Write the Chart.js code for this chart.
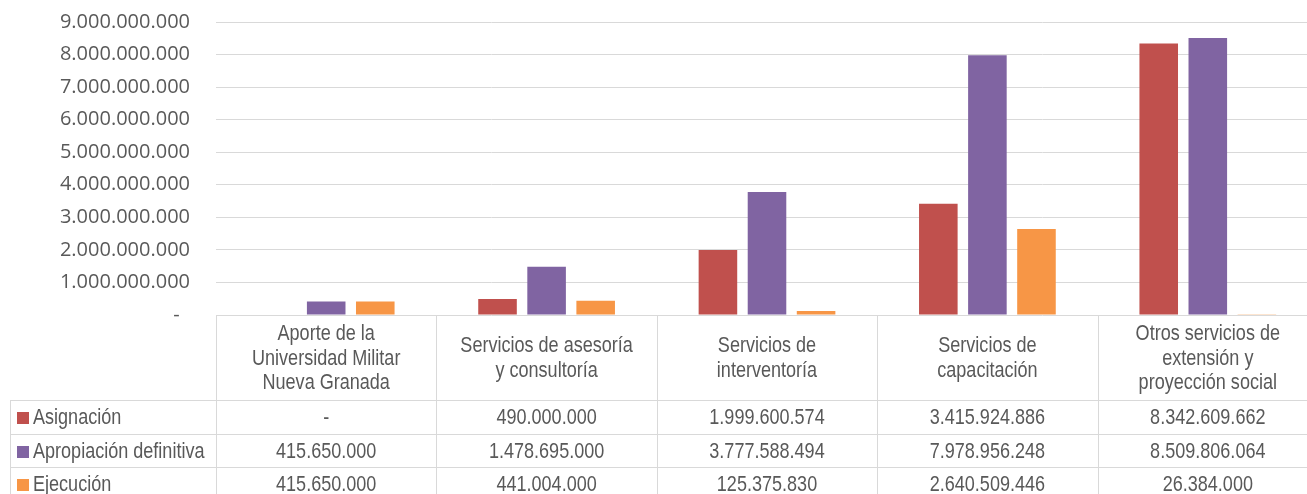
<!DOCTYPE html>
<html>
<head>
<meta charset="utf-8">
<script src="https://cdn.jsdelivr.net/npm/chart.js@4.4.1/dist/chart.umd.min.js"></script>
<style>
  html, body { margin: 0; padding: 0; background: #fff; overflow: hidden; }
  canvas { display: block; }
</style>
</head>
<body>
<canvas id="presupuesto" width="1318" height="494"></canvas>
<script>
const categorias = [
	["Aporte de la", "Universidad Militar", "Nueva Granada"],
	["Servicios de asesoría", "y consultoría"],
	["Servicios de", "interventoría"],
	["Servicios de", "capacitación"],
	["Otros servicios de", "extensión y", "proyección social"],
];
const asignacion = [0, 490000000, 1999600574, 3415924886, 8342609662];
const apropiacion = [415650000, 1478695000, 3777588494, 7978956248, 8509806064];
const ejecucion = [415650000, 441004000, 125375830, 2640509446, 26384000];
const ejeMax = 9000000000;
const ejePaso = 1000000000;

const GRIS = "#595959";
const LINEA = "#d9d9d9";
const FUENTE_TABLA = "22px 'Liberation Sans', Arial, sans-serif";
const ESTRECHO = 0.82; // compresion horizontal tipo "Narrow"

// formato con punto de miles, el cero se muestra como guion
function formato(v) {
	if (v === 0) return "-";
	return String(Math.round(v)).replace(/\B(?=(\d{3})+(?!\d))/g, ".");
}

// texto estrecho: se escala en x alrededor del punto de anclaje
function textoEstrecho(ctx, t, x, y) {
	ctx.save();
	ctx.translate(x, y);
	ctx.scale(ESTRECHO, 1);
	ctx.fillText(t, 0, 0);
	ctx.restore();
}

// tabla de datos debajo del grafico: encabezados de categoria y una fila por serie
const tablaDatos = {
	id: "tablaDatos",
	afterDraw(chart) {
		const { ctx, chartArea, scales } = chart;
		const x = scales.x;
		const n = categorias.length;
		const ancho = (chartArea.right - chartArea.left) / n;
		const top = chartArea.bottom;
		const filas = [400, 434, 467, 501];
		const izq = 10;

		ctx.save();
		ctx.strokeStyle = LINEA;
		ctx.lineWidth = 1;
		ctx.beginPath();
		// lineas horizontales de las filas
		filas.forEach((y) => {
			ctx.moveTo(izq, Math.round(y) + 0.5);
			ctx.lineTo(chart.width, Math.round(y) + 0.5);
		});
		// columnas de categoria
		for (let i = 0; i <= n; i++) {
			const xx = Math.round(chartArea.left + i * ancho) + 0.5;
			ctx.moveTo(xx, top);
			ctx.lineTo(xx, chart.height);
		}
		ctx.moveTo(izq + 0.5, filas[0]);
		ctx.lineTo(izq + 0.5, chart.height);
		ctx.stroke();

		ctx.fillStyle = GRIS;
		ctx.font = FUENTE_TABLA;
		ctx.textAlign = "center";
		ctx.textBaseline = "middle";

		// encabezados
		const centroEnc = (top + filas[0]) / 2 + 1;
		categorias.forEach((lineas, i) => {
			const cx = x.getPixelForValue(i);
			const alto = 24.5;
			const y0 = centroEnc - ((lineas.length - 1) * alto) / 2;
			lineas.forEach((t, j) => textoEstrecho(ctx, t, cx, y0 + j * alto));
		});

		// filas de series
		chart.data.datasets.forEach((ds, r) => {
			const cy = (filas[r] + filas[r + 1]) / 2 + 1;
			ctx.fillStyle = ds.backgroundColor;
			ctx.fillRect(17, Math.round(cy - 6), 12, 12);
			ctx.fillStyle = GRIS;
			ctx.textAlign = "left";
			textoEstrecho(ctx, ds.label, 33, cy);
			ctx.textAlign = "center";
			ds.data.forEach((v, i) => {
				textoEstrecho(ctx, formato(v), x.getPixelForValue(i), cy);
			});
		});
		ctx.restore();
	},
};

const ctx = document.getElementById("presupuesto").getContext("2d");
new Chart(ctx, {
	type: "bar",
	data: {
		labels: categorias.map((c) => c.join(" ")),
		datasets: [
			{ label: "Asignación", data: asignacion, backgroundColor: "#C0504D" },
			{ label: "Apropiación definitiva", data: apropiacion, backgroundColor: "#8064A2" },
			{ label: "Ejecución", data: ejecucion, backgroundColor: "#F79646" },
		],
	},
	options: {
		responsive: false,
		animation: false,
		devicePixelRatio: 1,
		layout: { padding: { left: 0, top: 22, right: 0, bottom: 179 } },
		datasets: {
			bar: { categoryPercentage: 0.668, barPercentage: 0.786 },
		},
		plugins: {
			legend: { display: false },
			tooltip: { enabled: false },
		},
		scales: {
			x: { display: false },
			y: {
				min: 0,
				max: ejeMax,
				afterFit: (scale) => { scale.width = 216; },
				border: { display: false },
				// marcas invisibles para separar las etiquetas del area
				grid: { color: LINEA, lineWidth: 1, drawTicks: true, tickLength: 23, tickColor: "rgba(0,0,0,0)" },
				ticks: {
					stepSize: ejePaso,
					padding: 3,
					color: GRIS,
					font: { family: "'Open Sans', sans-serif", size: 20 },
					callback: (v) => (v === 0 ? "-  " : formato(v)),
				},
			},
		},
	},
	plugins: [tablaDatos],
});
</script>
</body>
</html>
